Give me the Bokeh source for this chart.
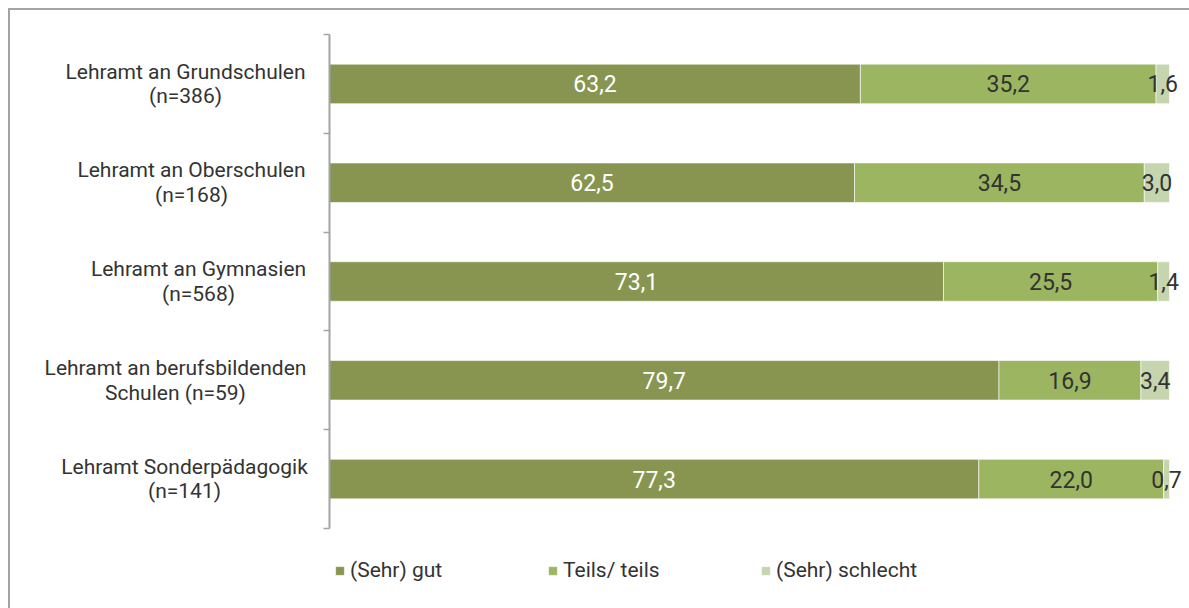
from bokeh.plotting import figure
from bokeh.layouts import row
from bokeh.models import ColumnDataSource, Range1d, FixedTicker
from bokeh.core.properties import value
from bokeh.embed import file_html
from bokeh.resources import INLINE

categories = [
    "Lehramt an Grundschulen\n(n=386)",
    "Lehramt an Oberschulen\n(n=168)",
    "Lehramt an Gymnasien\n(n=568)",
    "Lehramt an berufsbildenden\nSchulen (n=59)",
    "Lehramt Sonderpädagogik\n(n=141)",
]
series_names = ["(Sehr) gut", "Teils/ teils", "(Sehr) schlecht"]
sehr_gut = [63.2, 62.5, 73.1, 79.7, 77.3]
teils_teils = [35.2, 34.5, 25.5, 16.9, 22.0]
sehr_schlecht = [1.6, 3.0, 1.4, 3.4, 0.7]

colors = ["#879551", "#9bb561", "#c6d5ad"]
label_colors = ["#ffffff", "#333333", "#333333"]
FONT = "Roboto"

# layout geometry (pixels)
H = 598
LAB_W = 309          # width of the category-label panel
P_W = 870            # width of the bar panel
P_LEFT = 10          # room for the y axis ticks
FRAME_TOP = 24
BAND_PX = 98.8       # height of one category band
LEGEND_SPACE = 80    # pixels below the last band (legend area)
PX_PER_UNIT = 8.4
label_center_px = [175, 181, 188, 165, 174]  # centres of the category label blocks

n = len(categories)
ys = list(range(n))
keys = ["s0", "s1", "s2"]
source = ColumnDataSource(dict(y=ys, s0=sehr_gut, s1=teils_teils, s2=sehr_schlecht))
yr = Range1d(n - 0.5 + LEGEND_SPACE / BAND_PX, -0.5)

# ---- bar panel ----
x_end = (P_W - P_LEFT) / PX_PER_UNIT
p = figure(width=P_W, height=H, output_backend="svg", toolbar_location=None,
           x_range=Range1d(0, x_end), y_range=yr,
           min_border_left=P_LEFT, min_border_right=0,
           min_border_top=FRAME_TOP, min_border_bottom=0)
p.outline_line_color = None
p.xgrid.visible = False
p.ygrid.visible = False
p.xaxis.visible = False

p.hbar_stack(keys, y="y", height=0.4, color=colors, source=source,
             legend_label=series_names, line_color="white", line_width=1, line_alpha=0.6)

tx, ty, tt, tc = [], [], [], []
all_series = [sehr_gut, teils_teils, sehr_schlecht]
for i in range(n):
    start = 0.0
    for s, vals in enumerate(all_series):
        v = vals[i]
        tx.append(start + v / 2)
        ty.append(ys[i])
        tt.append(f"{v:.1f}".replace(".", ","))
        tc.append(label_colors[s])
        start += v
p.text(x="x", y="y", text="t", text_color="c",
       source=ColumnDataSource(dict(x=tx, y=ty, t=tt, c=tc)),
       text_font=value(FONT), text_font_size="23px",
       text_align="center", text_baseline="middle")

yax = p.yaxis[0]
yax.ticker = FixedTicker(ticks=[i - 0.5 for i in range(n + 1)])
yax.major_label_overrides = {i - 0.5: "" for i in range(n + 1)}
yax.bounds = (-0.5, n - 0.5)
yax.major_label_standoff = 0
yax.minor_tick_line_color = None
yax.major_tick_in = 0
yax.major_tick_out = 6
yax.axis_line_color = "#a0a3a8"
yax.axis_line_width = 2
yax.major_tick_line_color = "#a0a3a8"
yax.major_tick_line_width = 1.5

lg = p.legend[0]
lg.orientation = "horizontal"
lg.location = (5, 26)
lg.border_line_color = None
lg.background_fill_alpha = 0
lg.padding = 0
lg.margin = 0
lg.spacing = 0
lg.glyph_width = 11
lg.glyph_height = 11
lg.label_standoff = 5
lg.label_width = 197
lg.label_text_font = FONT
lg.label_text_font_size = "21px"
lg.label_text_color = "#333333"

# ---- category label panel ----
lab = figure(width=LAB_W, height=H, output_backend="svg", toolbar_location=None,
             x_range=Range1d(0, LAB_W), y_range=yr,
             min_border_left=0, min_border_right=0,
             min_border_top=FRAME_TOP, min_border_bottom=0)
lab.axis.visible = False
lab.grid.visible = False
lab.outline_line_color = None
lab.text(x=label_center_px, y=ys, text=categories,
         text_font=value(FONT), text_font_size="21px", text_color="#333333",
         text_align="center", text_baseline="middle", text_line_height=1.02)

layout = row(lab, p, styles={"margin-left": "8px", "margin-top": "8px",
                             "border-left": "2px solid #a0a3a8",
                             "border-top": "2px solid #a0a3a8"})

open("out.html", "w").write(file_html(layout, INLINE))
